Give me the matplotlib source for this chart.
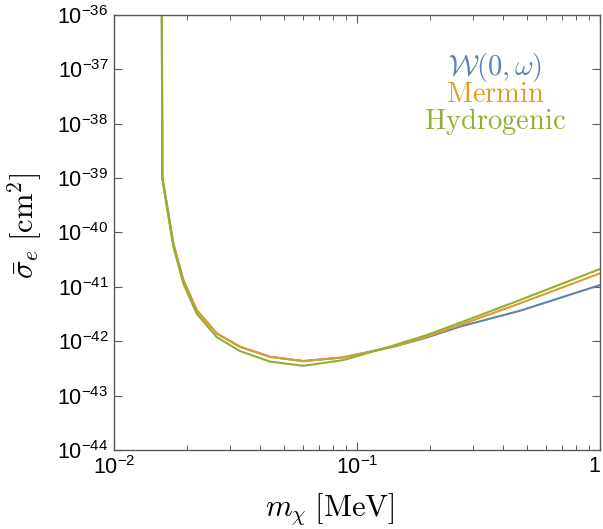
import matplotlib as mpl
import numpy as np

mpl.use("Agg")
import matplotlib.pyplot as plt  # noqa: E402
from matplotlib.ticker import FixedLocator, LogLocator, NullFormatter  # noqa: E402

# dark matter mass [MeV]
m_chi = [0.01573, 0.01581, 0.01648, 0.01754, 0.01929, 0.02189, 0.02646,
         0.03300, 0.04385, 0.06012, 0.08783, 0.1410, 0.1935, 0.2654,
         0.4687, 1.0]
# log10 of the reach in cross section [cm^2]
logs_w = [-35.5, -39.0, -39.463, -40.199, -40.874, -41.425, -41.854,
          -42.100, -42.284, -42.363, -42.295, -42.100, -41.931, -41.729,
          -41.438, -40.966]
logs_mermin = [-35.5, -39.0, -39.463, -40.199, -40.874, -41.425, -41.854,
               -42.100, -42.284, -42.363, -42.295, -42.100, -41.916, -41.701,
               -41.302, -40.750]
logs_hydro = [-35.5, -39.0, -39.515, -40.258, -40.938, -41.490, -41.922,
              -42.179, -42.372, -42.450, -42.345, -42.078, -41.885, -41.659,
              -41.241, -40.671]

BLUE = "#5E81B5"
ORANGE = "#E19C24"
GREEN = "#8FB032"
FRAME = "0.35"

plt.rcParams.update({
    "mathtext.fontset": "custom",
    "mathtext.rm": "Liberation Sans",
    "mathtext.it": "Liberation Sans:italic",
    "mathtext.bf": "Liberation Sans:bold",
    "font.family": "Liberation Sans",
})

fig = plt.figure(figsize=(6.03, 5.29), dpi=100)
ax = fig.add_axes([0.189, 0.149, 0.806, 0.823])

for logs, col in ((logs_w, BLUE), (logs_mermin, ORANGE), (logs_hydro, GREEN)):
    ax.plot(m_chi, 10.0 ** np.array(logs), color=col, lw=1.5)

ax.set_xscale("log")
ax.set_yscale("log")
ax.set_xlim(1e-2, 1)
ax.set_ylim(1e-44, 1e-36)

ax.yaxis.set_major_locator(FixedLocator([10.0 ** k for k in range(-44, -35)]))
ax.yaxis.set_minor_locator(FixedLocator([]))
ax.set_yticklabels([rf"$10^{{{k}}}$" for k in range(-44, -35)])
ax.xaxis.set_major_locator(FixedLocator([1e-2, 1e-1, 1]))
ax.xaxis.set_minor_locator(LogLocator(base=10, subs=np.arange(2, 10), numticks=10))
ax.xaxis.set_minor_formatter(NullFormatter())
xl = ax.set_xticklabels([r"$10^{-2}$", r"$10^{-1}$", "1"])
xl[-1].set_ha("right")

ax.tick_params(which="both", direction="in", top=True, right=True,
               labelsize=15.5, color=FRAME)
ax.tick_params(which="major", length=6, width=0.8, pad=4)
ax.tick_params(which="minor", length=3.5, width=0.7)
for sp in ax.spines.values():
    sp.set_color(FRAME)
    sp.set_linewidth(1.0)

ax.set_xlabel(r"$m_\chi\;[\mathrm{MeV}]$", fontsize=22, math_fontfamily="cm")
ax.xaxis.set_label_coords(0.444, -0.093)
ax.set_ylabel(r"$\bar{\sigma}_e\;[\mathrm{cm}^2]$", fontsize=22,
              math_fontfamily="cm")
ax.yaxis.set_label_coords(-0.143, 0.515)

ax.text(0.784, 0.878, r"$\mathcal{W}(0,\omega)$", transform=ax.transAxes,
        color=BLUE, fontsize=20.5, math_fontfamily="cm", ha="center", va="center")
ax.text(0.784, 0.816, r"$\mathrm{Mermin}$", transform=ax.transAxes,
        color=ORANGE, fontsize=20.5, math_fontfamily="cm", ha="center", va="center")
ax.text(0.784, 0.754, r"$\mathrm{Hydrogenic}$", transform=ax.transAxes,
        color=GREEN, fontsize=20.5, math_fontfamily="cm", ha="center", va="center")

fig.savefig("out.png", dpi=100)
